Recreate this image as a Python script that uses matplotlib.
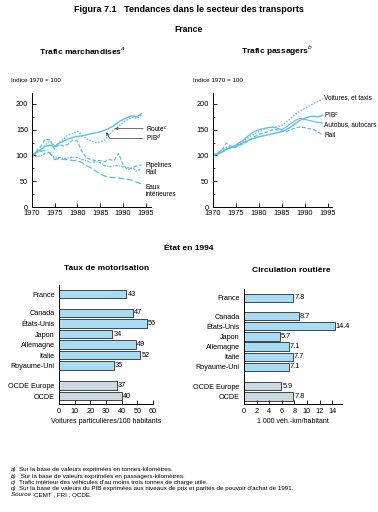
import numpy as np
import matplotlib
matplotlib.use("Agg")
import matplotlib.pyplot as plt

plt.rcParams['font.family'] = ['Liberation Sans Narrow', 'Liberation Sans', 'DejaVu Sans']

W, H = 378, 512
LINE_C = '#5cbcea'
BAR_C = '#a8dcf4'
BAR_OCDE = '#cdd9e0'

# ---------------- data ----------------
years = list(range(1970, 1995))

# Trafic marchandises (indice 1970 = 100)
m_route = [100, 106, 112, 118, 120, 117, 124, 128, 132, 135, 137, 138, 140, 142, 144,
           146, 149, 153, 158, 165, 170, 174, 177, 175, 181]
m_pib = [100, 104, 110, 121, 128, 118, 125, 132, 140, 143, 147, 140, 132, 128, 125,
         126, 130, 140, 150, 157, 164, 170, 174, 172, 178]
m_pipe = [100, 108, 118, 132, 130, 112, 122, 118, 122, 130, 128, 108, 95, 92, 90,
          90, 88, 92, 90, 104, 82, 72, 76, 80, 82]
m_rail = [100, 98, 99, 104, 106, 95, 96, 94, 95, 97, 96, 92, 90, 86, 88,
          86, 80, 78, 80, 80, 78, 76, 76, 70, 74]
m_eaux = [100, 105, 108, 110, 104, 92, 94, 92, 92, 90, 90, 86, 80, 76, 70,
          64, 60, 58, 57, 56, 55, 54, 52, 48, 45]

# Trafic passagers (indice 1970 = 100)
p_voit = [100, 104, 110, 116, 117, 118, 124, 130, 136, 141, 146, 150, 153, 155, 156,
          158, 164, 172, 180, 186, 191, 196, 201, 205, 210]
p_pib = [100, 103, 106, 112, 115, 117, 122, 126, 130, 133, 136, 138, 140, 142, 144,
         146, 150, 155, 162, 168, 172, 175, 176, 175, 178]
p_bus = [100, 102, 106, 112, 116, 120, 126, 132, 140, 146, 150, 152, 154, 155, 153,
         150, 155, 162, 168, 172, 170, 168, 166, 164, 163]
p_rail = [100, 104, 110, 124, 118, 116, 120, 124, 130, 136, 140, 144, 146, 150, 150,
          148, 146, 150, 154, 155, 154, 152, 150, 145, 140]

# Etat en 1994
pays = ['France', 'Canada', 'États-Unis', 'Japon', 'Allemagne', 'Italie',
        'Royaume-Uni', 'OCDE Europe', 'OCDE']
ypos = [0, 1.8, 2.8, 3.8, 4.8, 5.8, 6.8, 8.7, 9.7]
motorisation = [43, 47, 56, 34, 49, 52, 35, 37, 40]
circulation = [7.8, 8.7, 14.4, 5.7, 7.1, 7.7, 7.1, 5.9, 7.8]


def fx(px):
    return px / W


def fy(py):
    return 1 - py / H


fig = plt.figure(figsize=(W / 100, H / 100), dpi=100)

fig.text(0.5, fy(10), 'Figura 7.1   Tendances dans le secteur des transports',
         ha='center', va='center', fontsize=6.5, fontweight='bold')
fig.text(0.5, fy(30), 'France', ha='center', va='center', fontsize=6.2, fontweight='bold')
fig.text(fx(82), fy(51), 'Trafic marchandises$^a$', ha='center', va='center',
         fontsize=6.0, fontweight='bold')
fig.text(fx(277), fy(51), 'Trafic passagers$^b$', ha='center', va='center',
         fontsize=6.0, fontweight='bold')
fig.text(fx(11), fy(81), 'Indice 1970 = 100', ha='left', va='center', fontsize=4.5)
fig.text(fx(193), fy(81), 'Indice 1970 = 100', ha='left', va='center', fontsize=4.5)


def style_line_ax(ax):
    ax.set_xlim(1970, 1996)
    ax.set_ylim(0, 222)
    ax.set_xticks(range(1970, 1996, 5))
    ax.set_yticks(range(0, 201, 50))
    ax.set_yticks(range(0, 221, 25), minor=True)
    for s in ['top', 'right']:
        ax.spines[s].set_visible(False)
    for s in ['left', 'bottom']:
        ax.spines[s].set_linewidth(0.7)
    ax.tick_params(axis='both', direction='in', length=3, width=0.6,
                   labelsize=5.3, pad=2.5)
    ax.tick_params(axis='y', which='minor', direction='in', length=1.5, width=0.5)
    ax.patch.set_alpha(0)


# ---------- left line chart ----------
bot = fy(207)
hgt = (207 - 92.6) / H
ax1 = fig.add_axes([fx(31.7), bot, 26 * 4.57 / W, hgt])
style_line_ax(ax1)
ax1.plot(years, m_route, color=LINE_C, lw=1.0, ls='-')
ax1.plot(years, m_pib, color=LINE_C, lw=1.0, ls=(0, (1, 1.2)))
ax1.plot(years, m_pipe, color=LINE_C, lw=0.9, ls=(0, (3, 1.5)))
ax1.plot(years, m_rail, color=LINE_C, lw=0.9, ls=(0, (2, 1, 0.8, 1)))
ax1.plot(years, m_eaux, color=LINE_C, lw=0.9, ls=(0, (5, 2)))
lab_kw = dict(fontsize=4.7, va='center', ha='left', clip_on=False)
ax1.annotate('Route$^c$', xy=(1988.2, 152), xytext=(1995, 152),
             arrowprops=dict(arrowstyle='->', lw=0.5, color='#333333', shrinkA=0, shrinkB=0),
             **lab_kw)
ax1.annotate('PIB$^d$', xy=(1986.3, 145), xytext=(1995, 133),
             arrowprops=dict(arrowstyle='->', lw=0.5, color='#333333', shrinkA=0, shrinkB=0,
                             connectionstyle='angle,angleA=180,angleB=-60,rad=0'),
             **lab_kw)
ax1.text(1995, 81, 'Pipelines', **lab_kw)
ax1.text(1995, 67, 'Rail', **lab_kw)
ax1.text(1995, 38, 'Eaux', **lab_kw)
ax1.text(1995, 24, 'intérieures', **lab_kw)

# ---------- right line chart ----------
ax2 = fig.add_axes([fx(212.5), bot, 26 * 4.6 / W, hgt])
style_line_ax(ax2)
ax2.plot(years, p_voit, color=LINE_C, lw=1.0, ls=(0, (1, 1.2)))
ax2.plot(years, p_pib, color=LINE_C, lw=1.0, ls='-')
ax2.plot(years, p_bus, color=LINE_C, lw=0.8, ls='-')
ax2.plot(years, p_rail, color=LINE_C, lw=0.9, ls=(0, (3, 1.5)))
ax2.text(1994.3, 212, 'Voitures, et taxis', **lab_kw)
ax2.text(1994.3, 178, 'PIB$^c$', **lab_kw)
ax2.text(1994.3, 160, 'Autobus, autocars', **lab_kw)
ax2.text(1994.3, 138, 'Rail', **lab_kw)

# ---------- bar charts ----------
fig.text(0.5, fy(248), 'État en 1994', ha='center', va='center', fontsize=6.0,
         fontweight='bold')
fig.text(fx(107), fy(269), 'Taux de motorisation', ha='center', va='center',
         fontsize=6.0, fontweight='bold')
fig.text(fx(291), fy(270), 'Circulation routière', ha='center', va='center',
         fontsize=6.0, fontweight='bold')

colors = [BAR_C] * 7 + [BAR_OCDE] * 2


def bar_ax(rect, vals, xmax, ticks, fmt, xlabel):
    ax = fig.add_axes(rect)
    ax.barh(ypos, vals, height=0.82, color=colors, edgecolor='#2a2a2a', linewidth=0.6)
    ax.set_ylim(10.45, -0.86)
    ax.set_xlim(0, xmax)
    ax.set_yticks(ypos)
    ax.set_yticklabels(pays)
    ax.set_xticks(ticks)
    for s in ['top', 'right']:
        ax.spines[s].set_visible(False)
    for s in ['left', 'bottom']:
        ax.spines[s].set_linewidth(0.7)
    ax.tick_params(axis='y', length=0, labelsize=5.2, pad=3)
    ax.tick_params(axis='x', direction='in', length=3, width=0.6, labelsize=5.3, pad=3)
    for y, v in zip(ypos, vals):
        ax.text(v + xmax * 0.012, y, fmt.format(v), va='center', ha='left', fontsize=5.3)
    ax.set_xlabel(xlabel, fontsize=5.0, labelpad=2)
    ax.patch.set_alpha(0)
    return ax


bar_ax([fx(59), fy(404), 94 / W, (404 - 285) / H], motorisation, 60,
       range(0, 61, 10), '{:d}', 'Voitures particulières/100 habitants')
bar_ax([fx(244), fy(404), 15.5 * 6.3 / W, (404 - 289) / H], circulation, 15.5,
       range(0, 15, 2), '{:.1f}', '1 000 véh.-km/habitant')

# ---------- footnotes ----------
notes = [
    ('a)', 'Sur la base de valeurs exprimées en tonnes-kilomètres.'),
    ('b)', ' Sur la base de valeurs exprimées en passagers-kilomètres.'),
    ('c)', 'Trafic intérieur des véhicules d\'au moins trois tonnes de charge utile.'),
    ('d)', 'Sur la base de valeurs du PIB exprimées aux niveaux de prix et parités de pouvoir d\'achat de 1991.'),
]
yy = 470
for k, t in notes:
    fig.text(fx(11), fy(yy), k, fontsize=4.5, style='italic', va='center', ha='left')
    fig.text(fx(19), fy(yy), t, fontsize=4.5, va='center', ha='left')
    yy += 6.2
fig.text(fx(11), fy(yy), 'Source :', fontsize=4.5, style='italic', va='center', ha='left')
fig.text(fx(34), fy(yy), 'CEMT , FRI , OCDE.', fontsize=4.5, va='center', ha='left')

fig.savefig('out.png', dpi=100)
